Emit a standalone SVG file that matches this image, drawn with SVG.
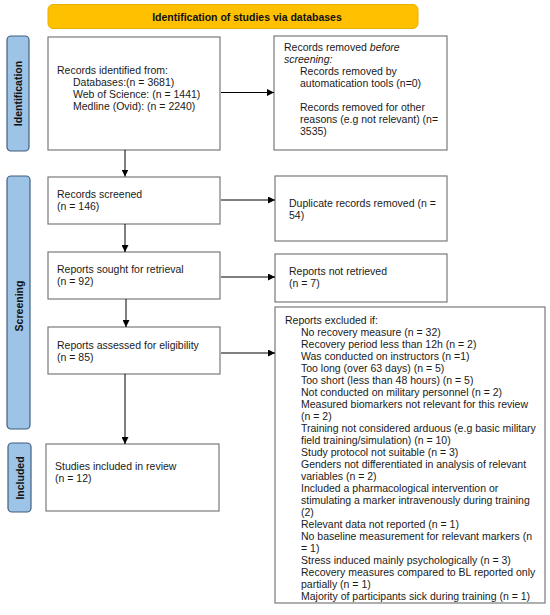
<svg xmlns="http://www.w3.org/2000/svg" width="550" height="615" viewBox="0 0 550 615">
<defs>
<marker id="ah" viewBox="0 0 10 10" refX="10" refY="5" markerWidth="7" markerHeight="7" markerUnits="userSpaceOnUse" orient="auto">
<path d="M0,0 L10,5 L0,10 z" fill="#000"/>
</marker>
<style>
.box{fill:#fff;stroke:#7a7a7a;stroke-width:1.2}
.side{fill:#9dc3e6;stroke:#3f5f7f;stroke-width:1.2}
.hdr{fill:#ffc000;stroke:#e8b000;stroke-width:1}
.t{font-family:"Liberation Sans",Arial,sans-serif;font-size:10.5px;fill:#1a1a1a}
.b{font-family:"Liberation Sans",Arial,sans-serif;font-size:10.5px;font-weight:bold;fill:#111}
.con{stroke:#000;stroke-width:1;fill:none;marker-end:url(#ah)}
</style>
</defs>
<rect width="550" height="615" fill="#fff"/>

<g id="header">
<rect class="hdr" x="48" y="4.5" width="370" height="24" rx="5"/>
<text class="b" x="247" y="20.5" text-anchor="middle">Identification of studies via databases</text>
</g>

<g id="label-identification">
<rect class="side" x="7" y="36" width="22" height="115" rx="4"/>
<text class="b" transform="translate(22,93.5) rotate(-90)" text-anchor="middle">Identification</text>
</g>
<g id="label-screening">
<rect class="side" x="7" y="176" width="23" height="253" rx="4"/>
<text class="b" transform="translate(22.5,306) rotate(-90)" text-anchor="middle">Screening</text>
</g>
<g id="label-included">
<rect class="side" x="8" y="443" width="23" height="69" rx="4"/>
<text class="b" transform="translate(23.5,478) rotate(-90)" text-anchor="middle">Included</text>
</g>

<g id="records-identified">
<rect class="box" x="48" y="37" width="172" height="113"/>
<text class="t" x="57" y="74">Records identified from:</text>
<text class="t" x="73" y="86">Databases:(n = 3681)</text>
<text class="t" x="73" y="98">Web of Science: (n = 1441)</text>
<text class="t" x="73" y="110">Medline (Ovid): (n = 2240)</text>
</g>

<g id="records-removed">
<rect class="box" x="274" y="36" width="173" height="114"/>
<text class="t" x="284" y="51">Records removed <tspan font-style="italic">before</tspan></text>
<text class="t" x="284" y="63" font-style="italic">screening:</text>
<text class="t" x="300" y="75">Records removed by</text>
<text class="t" x="300" y="87">automatication tools (n=0)</text>
<text class="t" x="300" y="111">Records removed for other</text>
<text class="t" x="300" y="123">reasons (e.g not relevant) (n=</text>
<text class="t" x="300" y="135">3535)</text>
</g>

<g id="records-screened">
<rect class="box" x="48" y="177" width="172" height="47"/>
<text class="t" x="57" y="198">Records screened</text>
<text class="t" x="57" y="210">(n = 146)</text>
</g>

<g id="duplicates-removed">
<rect class="box" x="275" y="176" width="172" height="65"/>
<text class="t" x="289" y="207">Duplicate records removed (n =</text>
<text class="t" x="289" y="219">54)</text>
</g>

<g id="reports-sought">
<rect class="box" x="48" y="252" width="172" height="47"/>
<text class="t" x="57" y="273">Reports sought for retrieval</text>
<text class="t" x="57" y="285">(n = 92)</text>
</g>

<g id="reports-not-retrieved">
<rect class="box" x="275" y="254" width="172" height="48"/>
<text class="t" x="289" y="275">Reports not retrieved</text>
<text class="t" x="289" y="287">(n = 7)</text>
</g>

<g id="reports-assessed">
<rect class="box" x="48" y="327" width="172" height="47"/>
<text class="t" x="57" y="349">Reports assessed for eligibility</text>
<text class="t" x="57" y="361">(n = 85)</text>
</g>

<g id="reports-excluded">
<rect class="box" x="275" y="307" width="270" height="296"/>
<text class="t" x="285" y="324">Reports excluded if:</text>
<text class="t" x="301" y="336">No recovery measure (n = 32)</text>
<text class="t" x="301" y="348">Recovery period less than 12h (n = 2)</text>
<text class="t" x="301" y="360">Was conducted on instructors (n =1)</text>
<text class="t" x="301" y="372">Too long (over 63 days) (n = 5)</text>
<text class="t" x="301" y="384">Too short (less than 48 hours) (n = 5)</text>
<text class="t" x="301" y="396">Not conducted on military personnel (n = 2)</text>
<text class="t" x="301" y="408">Measured biomarkers not relevant for this review</text>
<text class="t" x="301" y="420">(n = 2)</text>
<text class="t" x="301" y="432">Training not considered arduous (e.g basic military</text>
<text class="t" x="301" y="444">field training/simulation) (n = 10)</text>
<text class="t" x="301" y="456">Study protocol not suitable (n = 3)</text>
<text class="t" x="301" y="468">Genders not differentiated in analysis of relevant</text>
<text class="t" x="301" y="480">variables (n = 2)</text>
<text class="t" x="301" y="492">Included a pharmacological intervention or</text>
<text class="t" x="301" y="504">stimulating a marker intravenously during training</text>
<text class="t" x="301" y="516">(2)</text>
<text class="t" x="301" y="528">Relevant data not reported (n = 1)</text>
<text class="t" x="301" y="540">No baseline measurement for relevant markers (n</text>
<text class="t" x="301" y="552">= 1)</text>
<text class="t" x="301" y="564">Stress induced mainly psychologically (n = 3)</text>
<text class="t" x="301" y="576">Recovery measures compared to BL reported only</text>
<text class="t" x="301" y="588">partially (n = 1)</text>
<text class="t" x="301" y="600">Majority of participants sick during training (n = 1)</text>
</g>

<g id="studies-included">
<rect class="box" x="46" y="444" width="173" height="67"/>
<text class="t" x="55" y="470">Studies included in review</text>
<text class="t" x="55" y="482">(n = 12)</text>
</g>

<g id="connectors">
<line class="con" x1="221" y1="92.5" x2="274" y2="92.5"/>
<line class="con" x1="125" y1="150" x2="125" y2="176.5"/>
<line class="con" x1="221" y1="200" x2="275" y2="200"/>
<line class="con" x1="125" y1="224" x2="125" y2="252"/>
<line class="con" x1="221" y1="277" x2="275" y2="277"/>
<line class="con" x1="126" y1="299" x2="126" y2="327"/>
<line class="con" x1="221" y1="353" x2="275" y2="353"/>
<line class="con" x1="125" y1="374" x2="125" y2="444"/>
</g>
</svg>
